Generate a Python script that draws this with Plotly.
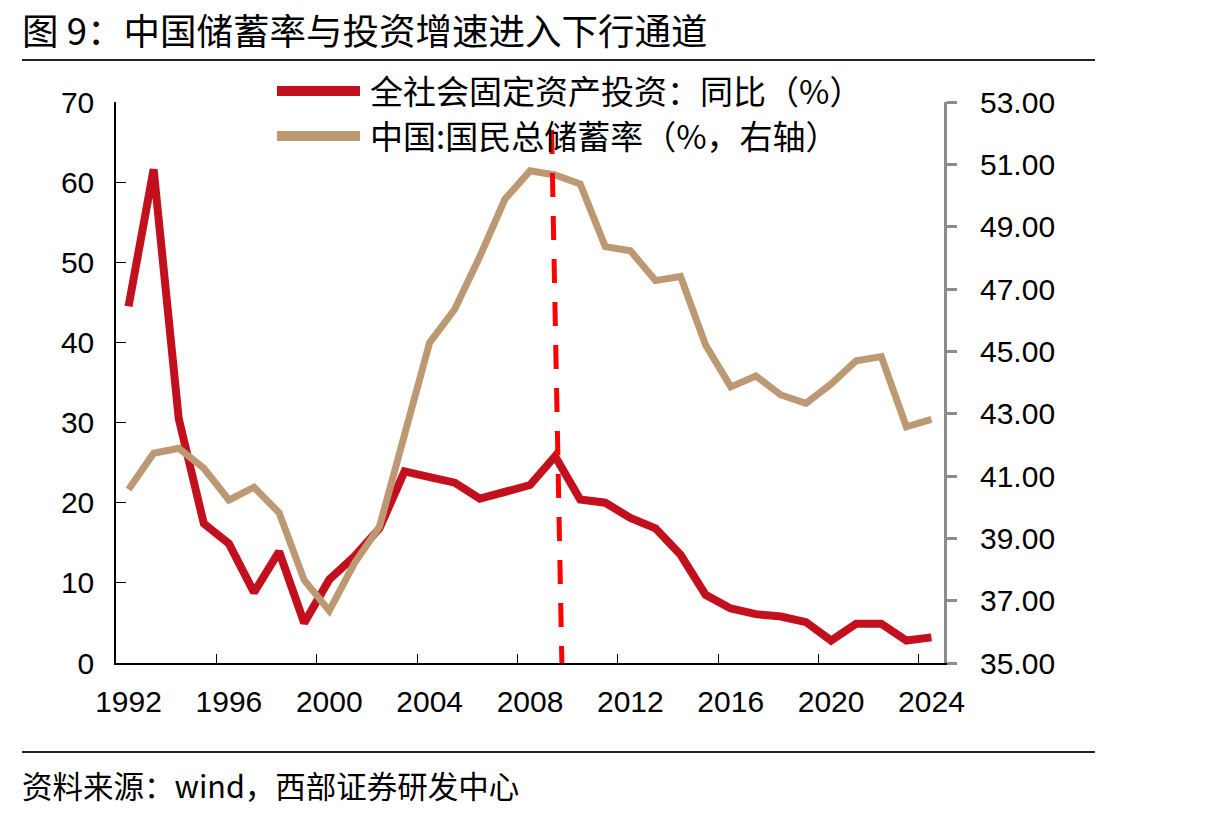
import plotly.graph_objects as go

# ---------------- data ----------------
years = list(range(1992, 2025))
fai_growth = [44.5, 61.6, 30.5, 17.4, 14.9, 8.8, 13.9, 5.0, 10.4, 13.3, 16.8,
              23.9, 23.2, 22.5, 20.5, 21.4, 22.2, 25.8, 20.4, 20.0, 18.1, 16.8,
              13.5, 8.5, 6.8, 6.1, 5.8, 5.1, 2.8, 4.9, 4.9, 2.8, 3.2]
savings_rate = [40.57, 41.73, 41.89, 41.25, 40.23, 40.64, 39.82, 37.66, 36.68,
                38.20, 39.37, 42.42, 45.28, 46.35, 48.04, 49.88, 50.79, 50.66,
                50.37, 48.36, 48.23, 47.27, 47.40, 45.20, 43.86, 44.21, 43.60,
                43.33, 43.95, 44.70, 44.83, 42.58, 42.82]
guide_x = [2008.86, 2009.27]       # turning-point marker (years)
guide_y = [52.1, 35.0]             # on right axis scale
x_tick_years = list(range(1992, 2025, 4))
x_boundaries = [y - 0.5 for y in range(1996, 2025, 4)]
left_ticks = list(range(0, 71, 10))
right_ticks = list(range(35, 54, 2))

name_fai = "全社会固定资产投资：同比（%）"
name_sav = "中国:国民总储蓄率（%，右轴）"
title_text = "图 9：中国储蓄率与投资增速进入下行通道"
source_text = "资料来源：wind，西部证券研发中心"

RED = "#C3101F"
TAN = "#BC9973"
GRAY = "#8C8C8C"
CJK = "Noto Sans CJK SC"
NUM = "Liberation Sans, Arial"

fig = go.Figure()
fig.add_trace(go.Scatter(x=years, y=fai_growth, mode="lines", name=name_fai,
                         line=dict(color=RED, width=8), yaxis="y", showlegend=False))
fig.add_trace(go.Scatter(x=years, y=savings_rate, mode="lines", name=name_sav,
                         line=dict(color=TAN, width=7), yaxis="y2", showlegend=False))
fig.add_trace(go.Scatter(x=guide_x, y=guide_y, mode="lines", yaxis="y2",
                         line=dict(color="#FF0000", width=5, dash="24px,19px"),
                         showlegend=False, hoverinfo="skip"))

L, R, T, B = 116, 944, 102, 663
W, H = 1215, 818


def px(x):
    return (x - L) / (R - L)


def py(y):
    return (B - y) / (B - T)


shapes = [
    dict(type="line", xref="paper", yref="paper", x0=px(22), x1=px(1095),
         y0=py(60), y1=py(60), line=dict(color="#222222", width=2)),
    dict(type="line", xref="paper", yref="paper", x0=px(22), x1=px(1095),
         y0=py(752), y1=py(752), line=dict(color="#222222", width=2)),
    dict(type="line", xref="paper", yref="paper", x0=px(277), x1=px(360),
         y0=py(91), y1=py(91), line=dict(color=RED, width=10)),
    dict(type="line", xref="paper", yref="paper", x0=px(277), x1=px(360),
         y0=py(136), y1=py(136), line=dict(color=TAN, width=10)),
]

annotations = [
    dict(text=title_text, xref="paper", yref="paper", x=px(20), y=py(29),
         xanchor="left", yanchor="middle", showarrow=False,
         font=dict(family=CJK, size=36.5, color="black")),
    dict(text=source_text, xref="paper", yref="paper", x=px(20), y=py(785),
         xanchor="left", yanchor="middle", showarrow=False,
         font=dict(family=CJK, size=30.5, color="black")),
    dict(text=name_fai, xref="paper", yref="paper", x=px(368), y=py(90),
         xanchor="left", yanchor="middle", showarrow=False,
         font=dict(family=CJK, size=33, color="black")),
    dict(text=name_sav, xref="paper", yref="paper", x=px(368), y=py(135),
         xanchor="left", yanchor="middle", showarrow=False,
         font=dict(family=CJK, size=33, color="black")),
]

fig.update_layout(
    width=W, height=H,
    margin=dict(l=L, r=W - R, t=T, b=H - B, pad=0),
    paper_bgcolor="white", plot_bgcolor="white",
    showlegend=False,
    shapes=shapes, annotations=annotations,
    xaxis=dict(range=[1991.5, 2024.5], tickmode="array", tickvals=x_tick_years,
               ticktext=[str(v) for v in x_tick_years], ticks="",
               showline=True, linecolor="black", linewidth=1.5,
               showgrid=False, zeroline=False,
               tickfont=dict(family=NUM, size=30, color="black"),
               ticklabelstandoff=11,
               minor=dict(tickmode="array", tickvals=x_boundaries, ticks="inside",
                          ticklen=9, tickcolor="black", tickwidth=1.2, showgrid=False)),
    yaxis=dict(range=[0, 70], tickmode="array", tickvals=left_ticks,
               ticks="inside", ticklen=10, tickcolor="black", tickwidth=1.2,
               showline=True, linecolor="black", linewidth=1.5,
               showgrid=False, zeroline=False,
               tickfont=dict(family=NUM, size=30, color="black"),
               ticklabelstandoff=14),
    yaxis2=dict(range=[35, 53], overlaying="y", side="right", anchor="x",
                tickmode="array", tickvals=right_ticks,
                ticktext=[f"{v:.2f}" for v in right_ticks],
                ticks="outside", ticklen=10, tickcolor=GRAY, tickwidth=3,
                showline=True, linecolor=GRAY, linewidth=3,
                showgrid=False, zeroline=False,
                tickfont=dict(family=NUM, size=30, color="black"),
                ticklabelstandoff=17),
)

fig.write_html("out.html")
